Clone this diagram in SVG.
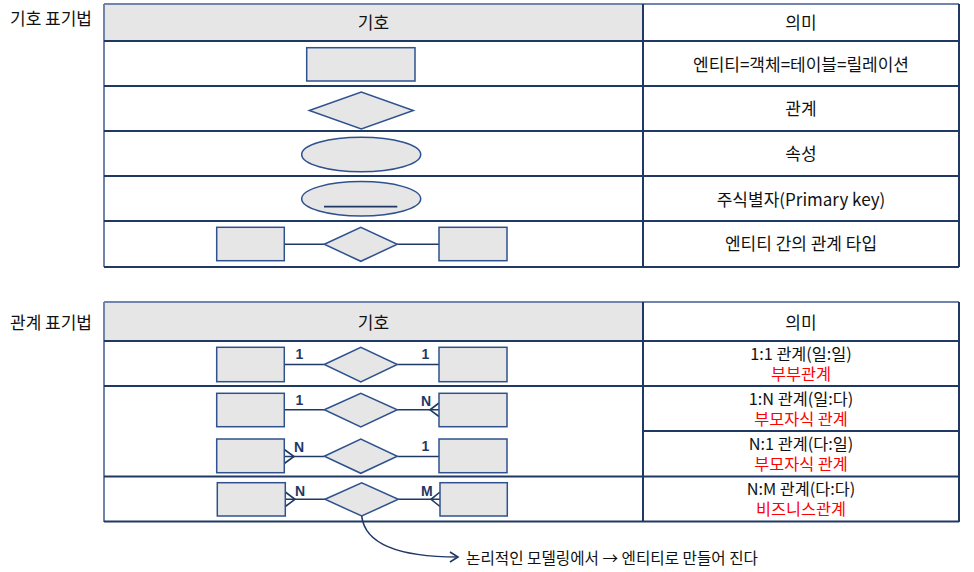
<svg xmlns="http://www.w3.org/2000/svg" width="974" height="572" viewBox="0 0 974 572">
<defs>
<style>
.t{font-family:"Noto Sans CJK KR","Noto Sans",sans-serif;font-size:17px;fill:#111;text-anchor:middle}
.s{font-size:16.3px}
.r{fill:#ff0000}
.lab{font-family:"Noto Sans CJK KR",sans-serif;font-size:17px;fill:#111}
.sh{fill:#e6e6e6;stroke:#2f528f;stroke-width:1.5}
.ln{stroke:#1f3864;stroke-width:2;fill:none}
.lt{stroke:#7084ad;stroke-width:2;fill:none}
.cn{stroke:#1f3864;stroke-width:1.6;fill:none}
.card{font-family:"Liberation Sans",Arial,sans-serif;font-size:14px;font-weight:bold;fill:#1f3864}
</style>
<marker id="chev" markerWidth="12" markerHeight="12" refX="9" refY="6" orient="auto" markerUnits="userSpaceOnUse">
<path d="M1,1 L9,6 L1,11" fill="none" stroke="#1f3864" stroke-width="1.6"/>
</marker>
</defs>
<rect width="974" height="572" fill="#fff"/>

<g id="section-labels">
<text class="lab" x="10" y="25">기호 표기법</text>
<text class="lab" x="10" y="329">관계 표기법</text>
</g>

<g id="table1">
<rect x="104" y="4" width="539" height="37" fill="#e6e6e6"/>
<line class="lt" x1="104" y1="4" x2="959" y2="4"/>
<line class="lt" x1="104" y1="4" x2="104" y2="267"/>
<line class="ln" x1="959" y1="4" x2="959" y2="267"/>
<line class="ln" x1="643" y1="4" x2="643" y2="267"/>
<line class="ln" x1="104" y1="41" x2="959" y2="41"/>
<line class="ln" x1="104" y1="86" x2="959" y2="86"/>
<line class="ln" x1="104" y1="131" x2="959" y2="131"/>
<line class="ln" x1="104" y1="176" x2="959" y2="176"/>
<line class="ln" x1="104" y1="221" x2="959" y2="221"/>
<line class="ln" x1="104" y1="267" x2="959" y2="267"/>
<text class="t" x="373.5" y="28.5">기호</text>
<text class="t" x="801" y="28.5">의미</text>
<text class="t" x="801" y="71">엔티티=객체=테이블=릴레이션</text>
<text class="t" x="801" y="115">관계</text>
<text class="t" x="801" y="160">속성</text>
<text class="t" x="801" y="205.5">주식별자(Primary key)</text>
<text class="t" x="801" y="249.5">엔티티 간의 관계 타입</text>
</g>

<g id="table2">
<rect x="104" y="302" width="539" height="39" fill="#e6e6e6"/>
<line class="lt" x1="104" y1="302" x2="959" y2="302"/>
<line class="lt" x1="104" y1="302" x2="104" y2="522"/>
<line class="ln" x1="959" y1="302" x2="959" y2="522"/>
<line class="ln" x1="643" y1="302" x2="643" y2="522"/>
<line class="ln" x1="104" y1="341" x2="959" y2="341"/>
<line class="ln" x1="104" y1="386" x2="959" y2="386"/>
<line class="ln" x1="643" y1="431" x2="959" y2="431"/>
<line class="ln" x1="104" y1="476.5" x2="959" y2="476.5"/>
<line class="ln" x1="104" y1="521.5" x2="959" y2="521.5"/>
<text class="t" x="373.5" y="328.5">기호</text>
<text class="t" x="801" y="328.5">의미</text>
<text class="t s" x="801" y="359.5">1:1 관계(일:일)</text>
<text class="t s r" x="801" y="380">부부관계</text>
<text class="t s" x="801" y="404.5">1:N 관계(일:다)</text>
<text class="t s r" x="801" y="425">부모자식 관계</text>
<text class="t s" x="801" y="449.5">N:1 관계(다:일)</text>
<text class="t s r" x="801" y="470">부모자식 관계</text>
<text class="t s" x="801" y="494.5">N:M 관계(다:다)</text>
<text class="t s r" x="801" y="515">비즈니스관계</text>
</g>

<g id="connectors">
<line class="cn" x1="284.3" y1="244.3" x2="324.3" y2="244.3"/>
<line class="cn" x1="397.3" y1="244.3" x2="439" y2="244.3"/>
<line class="cn" x1="284.3" y1="364.5" x2="324.3" y2="364.5"/>
<line class="cn" x1="397.3" y1="364.5" x2="439" y2="364.5"/>
<line class="cn" x1="284.3" y1="409.8" x2="324.3" y2="409.8"/>
<line class="cn" x1="397.3" y1="409.8" x2="439" y2="409.8"/>
<path class="cn" d="M439,403 L430,409.8 L439,416.5"/>
<line class="cn" x1="284.3" y1="456.5" x2="324.3" y2="456.5"/>
<line class="cn" x1="397.3" y1="456.5" x2="439" y2="456.5"/>
<path class="cn" d="M284.3,449.5 L294,456.5 L284.3,463.5"/>
<line class="cn" x1="285.3" y1="499.3" x2="325" y2="499.3"/>
<line class="cn" x1="398.3" y1="499.3" x2="440" y2="499.3"/>
<path class="cn" d="M285.3,492 L295,499.3 L285.3,506.5"/>
<path class="cn" d="M440,492 L431,499.3 L440,506.5"/>
<path class="cn" d="M361.7,516 C365,545 400,557 458,557" marker-end="url(#chev)"/>
</g>

<g id="entity-symbol"><rect class="sh" x="306.7" y="47.7" width="108.3" height="33.3"/></g>
<g id="relation-symbol"><polygon class="sh" points="309.3,110.5 361.3,92 413.3,110.5 361.3,129"/></g>
<g id="attribute-symbol"><ellipse class="sh" cx="361.2" cy="154.5" rx="59.5" ry="17.2"/></g>
<g id="pk-symbol"><ellipse class="sh" cx="361.2" cy="198.8" rx="59.5" ry="17.2"/><line x1="324" y1="206.7" x2="397.3" y2="206.7" stroke="#1f3864" stroke-width="1.8"/></g>
<g id="type-left"><rect class="sh" x="216.7" y="227.3" width="67.6" height="33.4"/></g>
<g id="type-rel"><polygon class="sh" points="324.3,244.3 360.8,227.3 397.3,244.3 360.8,261.3"/></g>
<g id="type-right"><rect class="sh" x="439" y="227.3" width="68" height="33.4"/></g>

<g id="r11-left"><rect class="sh" x="216.7" y="347.3" width="67.6" height="34.4"/></g>
<g id="r11-rel"><polygon class="sh" points="324.3,364.5 360.8,347.3 397.3,364.5 360.8,382"/></g>
<g id="r11-right"><rect class="sh" x="439" y="347.3" width="68" height="34.4"/></g>

<g id="r1n-left"><rect class="sh" x="216.7" y="393.3" width="67.6" height="33.4"/></g>
<g id="r1n-rel"><polygon class="sh" points="324.3,409.8 360.8,393.3 397.3,409.8 360.8,427"/></g>
<g id="r1n-right"><rect class="sh" x="439" y="393.3" width="68" height="33.4"/></g>

<g id="rn1-left"><rect class="sh" x="216.7" y="439" width="67.6" height="33.7"/></g>
<g id="rn1-rel"><polygon class="sh" points="324.3,456.3 360.8,439 397.3,456.3 360.8,473.3"/></g>
<g id="rn1-right"><rect class="sh" x="439" y="439" width="68" height="33.7"/></g>

<g id="rnm-left"><rect class="sh" x="217.3" y="482.7" width="68" height="33.3"/></g>
<g id="rnm-rel"><polygon class="sh" points="325,499.3 361.7,482.7 398.3,499.3 361.7,516"/></g>
<g id="rnm-right"><rect class="sh" x="440" y="482.7" width="67.3" height="33.3"/></g>

<g id="cardinality">
<text class="card" x="295.5" y="359.3">1</text>
<text class="card" x="421.5" y="359.3">1</text>
<text class="card" x="295.5" y="405">1</text>
<text class="card" x="421" y="406">N</text>
<text class="card" x="294" y="451.7">N</text>
<text class="card" x="421.5" y="451">1</text>
<text class="card" x="295" y="496">N</text>
<text class="card" x="421" y="496">M</text>
</g>

<g id="note">
<text class="lab" x="466" y="563.5" style="font-size:16px" textLength="292" lengthAdjust="spacingAndGlyphs">논리적인 모델링에서 → 엔티티로 만들어 진다</text>
</g>
</svg>
